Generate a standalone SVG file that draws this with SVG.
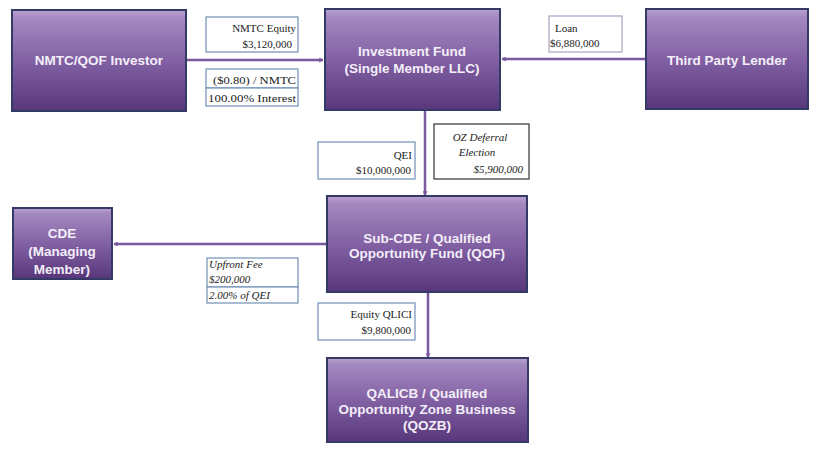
<svg xmlns="http://www.w3.org/2000/svg" width="814" height="452" viewBox="0 0 814 452">
<defs>
<linearGradient id="g" x1="0" y1="0" x2="0" y2="1">
<stop offset="0" stop-color="#b9a3d0"/>
<stop offset="0.08" stop-color="#a488c0"/>
<stop offset="0.55" stop-color="#7e5ca0"/>
<stop offset="1" stop-color="#573779"/>
</linearGradient>
<marker id="ah" viewBox="0 0 10 10" refX="9" refY="5" markerWidth="5" markerHeight="5" orient="auto" markerUnits="userSpaceOnUse">
<path d="M1,1 L9,5 L1,9" fill="none" stroke="#7a5a9e" stroke-width="2"/>
</marker>
<style>
.node{fill:url(#g);stroke:#343a66;stroke-width:2}
.nt{font-family:"Liberation Sans",Arial,sans-serif;font-weight:bold;font-size:13.5px;fill:#f3eef8;text-anchor:middle}
.conn{stroke:#7a5a9e;stroke-width:2.5;fill:none;marker-end:url(#ah)}
.lb{fill:#fff;stroke:#7090b8;stroke-width:1.2}
.lt{font-family:"Liberation Serif","Times New Roman",serif;font-size:11px;fill:#222}
.it{font-style:italic}
.r{text-anchor:end}
.m{text-anchor:middle}
</style>
</defs>
<rect width="814" height="452" fill="#fff"/>
<g id="connectors">
<line class="conn" x1="186" y1="60" x2="323" y2="60"/>
<line class="conn" x1="646" y1="59" x2="502" y2="59"/>
<line class="conn" x1="425" y1="111" x2="425" y2="195"/>
<line class="conn" x1="327" y1="244" x2="114" y2="244"/>
<line class="conn" x1="428" y1="293" x2="428" y2="357"/>
</g>
<g id="labels">
<g id="lbl-nmtc-equity">
<rect class="lb" x="206" y="17" width="92" height="35"/>
<text class="lt r" x="296" y="32">NMTC Equity</text>
<text class="lt r" x="292" y="48">$3,120,000</text>
</g>
<g id="lbl-nmtc-price">
<rect class="lb" x="206" y="69" width="92" height="19"/>
<rect class="lb" x="206" y="88" width="92" height="18"/>
<text class="lt" x="213" y="84" textLength="83" lengthAdjust="spacingAndGlyphs">($0.80) / NMTC</text>
<text class="lt" x="208" y="102" textLength="88" lengthAdjust="spacingAndGlyphs">100.00% Interest</text>
</g>
<g id="lbl-loan">
<rect class="lb" x="549" y="16" width="73" height="36" style="stroke:#a9a1c0"/>
<text class="lt" x="555" y="32">Loan</text>
<text class="lt" x="550" y="47">$6,880,000</text>
</g>
<g id="lbl-qei">
<rect class="lb" x="318" y="142" width="97" height="37"/>
<text class="lt r" x="412" y="159">QEI</text>
<text class="lt r" x="411" y="174">$10,000,000</text>
</g>
<g id="lbl-oz">
<rect class="lb" x="434" y="124" width="95" height="55" style="stroke:#333"/>
<text class="lt it m" x="480" y="141">OZ Deferral</text>
<text class="lt it m" x="477" y="156">Election</text>
<text class="lt it r" x="523" y="173">$5,900,000</text>
</g>
<g id="lbl-fee">
<rect class="lb" x="207" y="258" width="91" height="29"/>
<rect class="lb" x="207" y="287" width="91" height="16"/>
<text class="lt it" x="209" y="268">Upfront Fee</text>
<text class="lt it" x="209" y="283">$200,000</text>
<text class="lt it" x="209" y="299">2.00% of QEI</text>
</g>
<g id="lbl-qlici">
<rect class="lb" x="318" y="303" width="97" height="37"/>
<text class="lt r" x="412" y="318">Equity QLICI</text>
<text class="lt r" x="411" y="334">$9,800,000</text>
</g>
</g>
<g id="investor">
<rect class="node" x="12" y="10" width="174" height="101"/>
<text class="nt" x="99" y="65">NMTC/QOF Investor</text>
</g>
<g id="fund">
<rect class="node" x="325" y="9" width="175" height="101"/>
<text class="nt" x="412" y="56">Investment Fund</text>
<text class="nt" x="412" y="73">(Single Member LLC)</text>
</g>
<g id="lender">
<rect class="node" x="646" y="9" width="162" height="100"/>
<text class="nt" x="727" y="65">Third Party Lender</text>
</g>
<g id="cde">
<rect class="node" x="13" y="208" width="99" height="71"/>
<text class="nt" x="62" y="238">CDE</text>
<text class="nt" x="62" y="256">(Managing</text>
<text class="nt" x="62" y="274">Member)</text>
</g>
<g id="qof">
<rect class="node" x="327" y="196" width="200" height="96"/>
<text class="nt" x="427" y="243">Sub-CDE / Qualified</text>
<text class="nt" x="427" y="258">Opportunity Fund (QOF)</text>
</g>
<g id="qozb">
<rect class="node" x="327" y="358" width="201" height="84"/>
<text class="nt" x="427" y="398">QALICB / Qualified</text>
<text class="nt" x="427" y="414">Opportunity Zone Business</text>
<text class="nt" x="427" y="430">(QOZB)</text>
</g>
</svg>
